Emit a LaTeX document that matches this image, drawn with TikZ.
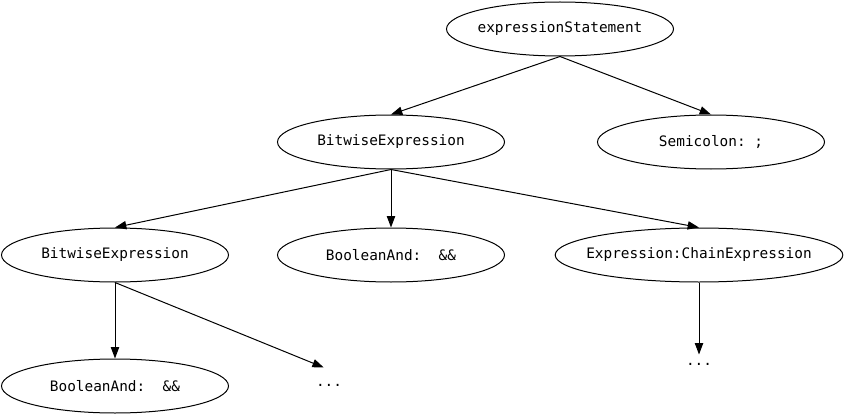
\documentclass[tikz,border=0pt]{standalone}
\usepackage{fontspec}
\setmonofont{DejaVu Sans Mono}
\usetikzlibrary{shapes.geometric,arrows.meta}

\begin{document}
\begin{tikzpicture}[
                x=0.75pt, y=-0.75pt,
                level distance=84.75pt,
                every node/.style={ellipse,draw,line width=0.75pt,minimum width=170.25pt,minimum height=40.5pt,
                    inner xsep=-2pt,inner ysep=0pt,font=\ttfamily\fontsize{10.8pt}{13pt}\selectfont},
                etcnode/.style={draw=none,rectangle,minimum width=0pt,minimum height=0pt,inner sep=0pt,
                    text height=7.5pt,text depth=1.5pt,anchor=base},
                edge from parent/.style={draw,line width=0.75pt,-{Triangle[length=8.5pt,width=6.2pt]}},
                edge from parent path={(\tikzparentnode.south) -- (\tikzchildnode.north)},
                level 1/.style={sibling distance=240pt},
                level 2/.style={sibling distance=219pt},
                level 3/.style={sibling distance=160.5pt,level distance=98.25pt}
            ]

            \useasboundingbox (0,0) rectangle (845,417);

            \node (stmt) at (560,29) {expressionStatement}
            child[xshift=-6.75pt] {node (bw1) {BitwiseExpression}
                    child[xshift=12pt] {node (bw2) {BitwiseExpression}
                            child[xshift=80.25pt] {node (band2) {BooleanAnd:~~\&\&}}
                            child[xshift=80.25pt,
                                edge from parent path={(\tikzparentnode.south) -- (\tikzchildnode.110)}]
                                {node[etcnode,inner ysep=6pt] (etcL) {...}}
                        }
                    child {node (band1) {BooleanAnd:~~\&\&}}
                    child[xshift=12pt] {node[inner xsep=-8.25pt] (chain) {Expression:ChainExpression}
                            child[level distance=82.5pt] {node[etcnode] (etcR) {...}}
                        }
                }
            child[xshift=-6.75pt] {node (semi) {Semicolon: ;}};

        \end{tikzpicture}
\end{document}
